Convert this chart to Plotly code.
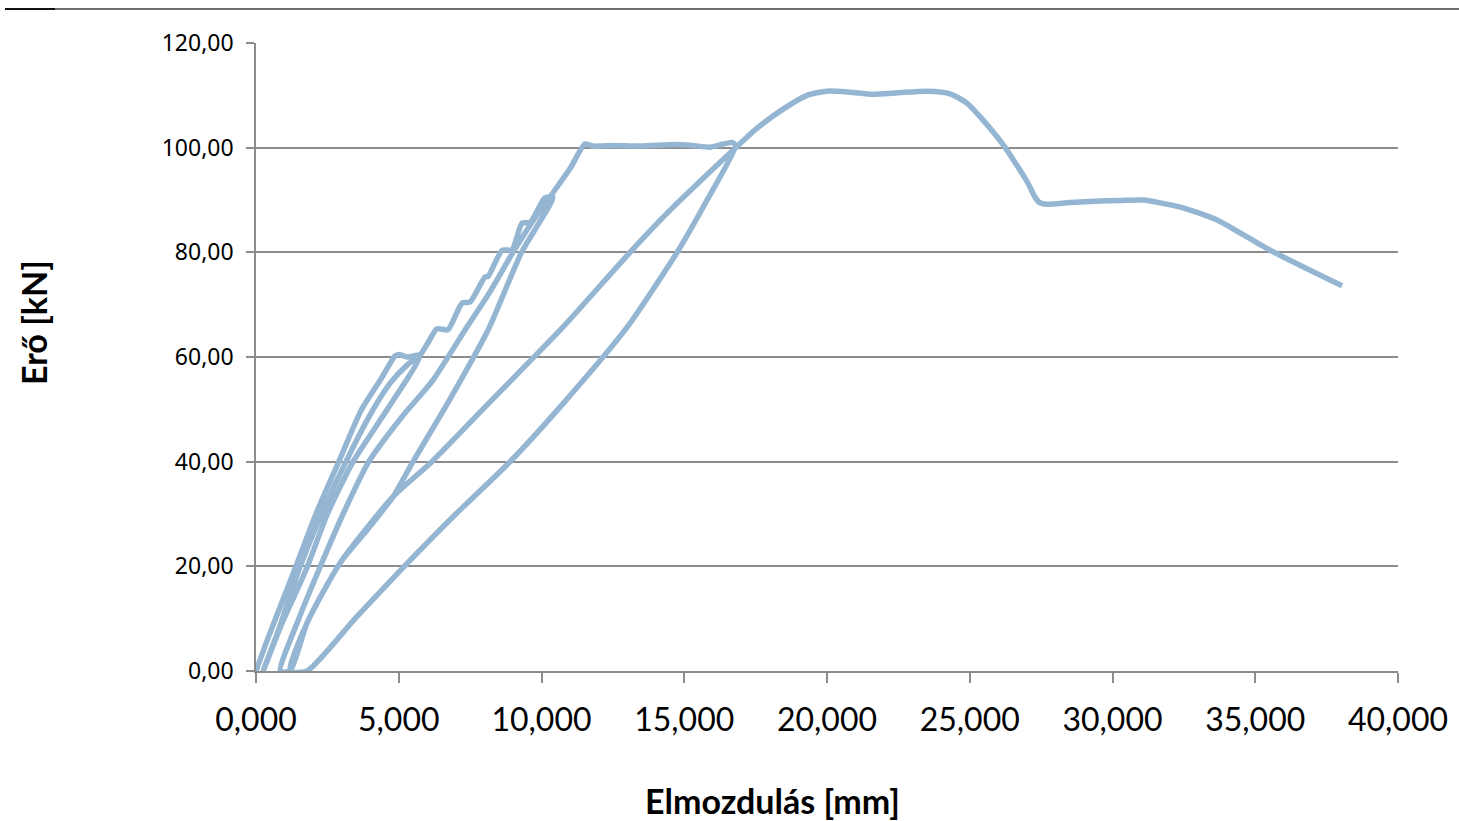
import plotly.graph_objects as go

# ---- data (displacement as labelled on the axis, force in kN) ----
load_a_x = [0, 400, 1350, 2100, 2900, 3700, 4400, 4870, 5000, 5300, 5740]
load_a_y = [0, 6, 19.3, 30, 40, 50, 56, 60.2, 60.5, 60.0, 60.3]

unload_a_x = [5740, 4600, 3400, 2500, 1750, 900, 250]
unload_a_y = [60.3, 50, 40, 30, 19.3, 9, 0]

reload_b_x = [250, 800, 1500, 2300, 3150, 4000, 4700, 5300, 5740]
reload_b_y = [0, 8, 19.3, 30, 40, 49, 55, 58.5, 60.3]

stairs_x = [5740, 6000, 6340, 6720, 7220, 7500, 8020, 8130, 8620, 8970, 9320, 9600, 10120, 10400]
stairs_y = [60.3, 62.5, 65.4, 65.2, 70.3, 70.5, 75.3, 75.4, 80.4, 80.5, 85.6, 85.7, 90.4, 90.5]

unload_90_x = [10400, 9300, 8150, 6800, 5500, 4800, 3900, 2940, 1790, 1190, 850]
unload_90_y = [90.5, 80, 65.4, 52, 40, 33.3, 27, 20.6, 9.2, 0, 0]

reload_90_x = [850, 1500, 2200, 3050, 3950, 5100, 6200, 7350, 8200, 9000, 9700, 10300, 11000, 11520]
reload_90_y = [0, 10, 19.3, 30, 40, 48.5, 55.6, 65.4, 72.5, 80, 86, 90.6, 96, 100.7]

plateau_x = [11520, 11800, 12500, 13500, 14700, 15300, 15900, 16300, 16670, 16800]
plateau_y = [100.7, 100.3, 100.4, 100.3, 100.6, 100.4, 100.1, 100.6, 101.0, 100.4]

unload_100_x = [16800, 15800, 14750, 13000, 10900, 8900, 7000, 5300, 3500, 1790, 1190]
unload_100_y = [100.4, 90, 80, 65.7, 52, 40, 30, 20.6, 10.2, 0, 0]

reload_100_x = [1190, 1790, 2940, 4800, 6160, 8300, 10700, 13100, 14400, 16800]
reload_100_y = [0, 9.2, 20.6, 33.3, 40, 52, 65.4, 80, 87.5, 100]

final_x = [16800, 17500, 18500, 19300, 20000, 20800, 21600, 22500, 23500, 24310, 24900,
           25460, 26230, 27040, 27290, 27450, 27700, 28500, 29560, 30300, 31070, 32470,
           33660, 35520, 38040]
final_y = [100, 103.5, 107.5, 110, 110.8, 110.6, 110.2, 110.5, 110.8, 110.3, 108.5,
           105.3, 100.1, 93.2, 90.5, 89.5, 89.2, 89.5, 89.8, 89.9, 90, 88.5,
           86.2, 80.4, 73.6]

segments_x = [load_a_x, unload_a_x, reload_b_x, stairs_x, unload_90_x, reload_90_x,
              plateau_x, unload_100_x, reload_100_x, final_x]
segments_y = [load_a_y, unload_a_y, reload_b_y, stairs_y, unload_90_y, reload_90_y,
              plateau_y, unload_100_y, reload_100_y, final_y]

xs, ys = [], []
for sx, sy in zip(segments_x, segments_y):
    for a, b in zip(sx, sy):
        if xs and xs[-1] == a and ys[-1] == b:
            continue
        xs.append(a)
        ys.append(b)

y_tick_vals = [0, 20, 40, 60, 80, 100, 120]
y_tick_text = ["0,00", "20,00", "40,00", "60,00", "80,00", "100,00", "120,00"]
x_tick_vals = [0, 5000, 10000, 15000, 20000, 25000, 30000, 35000, 40000]
x_tick_text = ["0,000", "5,000", "10,000", "15,000", "20,000", "25,000", "30,000", "35,000", "40,000"]

LINE_COLOR = "#94B6D3"
GRID = "#8C8C8C"

fig = go.Figure()
fig.add_trace(go.Scatter(x=xs, y=ys, mode="lines",
                         line=dict(color=LINE_COLOR, width=5.5, shape="spline", smoothing=0.6),
                         hoverinfo="skip", showlegend=False))

W, H = 1459, 821
L, R, T, B = 256, 61, 43, 150
pw, ph = W - L - R, H - T - B

def px_to_paper_x(px):
    return (px - L) / pw

def py_to_paper_y(py):
    return (H - B - py) / ph

fig.update_layout(
    width=W, height=H,
    margin=dict(l=L, r=R, t=T, b=B, autoexpand=False),
    paper_bgcolor="white", plot_bgcolor="white",
    showlegend=False,
    xaxis=dict(range=[0, 40000], tickvals=x_tick_vals, ticktext=x_tick_text,
               showgrid=False, zeroline=False, showline=True, linecolor=GRID, linewidth=1.5,
               ticks="outside", ticklen=10, tickcolor=GRID, tickwidth=1.5,
               tickfont=dict(family="Lato", size=32, color="black"),
               ticklabelstandoff=10),
    yaxis=dict(range=[0, 120], tickvals=y_tick_vals, ticktext=y_tick_text,
               showgrid=True, gridcolor=GRID, gridwidth=1.5, zeroline=False,
               showline=True, linecolor=GRID, linewidth=1.5,
               ticks="outside", ticklen=8, tickcolor=GRID, tickwidth=1.5,
               tickfont=dict(family="Noto Sans", size=23, color="black"),
               ticklabelstandoff=8),
)

fig.add_annotation(text="<b>Elmozdulás [mm]</b>", xref="paper", yref="paper",
                   x=px_to_paper_x(772), y=py_to_paper_y(800), showarrow=False,
                   xanchor="center", yanchor="middle",
                   font=dict(family="Lato", size=34, color="black"))
fig.add_annotation(text="<b>Erő [kN]</b>", xref="paper", yref="paper",
                   x=px_to_paper_x(33), y=py_to_paper_y(323), showarrow=False,
                   textangle=-90, xanchor="center", yanchor="middle",
                   font=dict(family="Lato", size=34, color="black"))

# thin border line at the very top of the image
fig.add_shape(type="line", xref="paper", yref="paper",
              x0=px_to_paper_x(5), x1=px_to_paper_x(55), y0=py_to_paper_y(9), y1=py_to_paper_y(9),
              line=dict(color="#111111", width=2))
fig.add_shape(type="line", xref="paper", yref="paper",
              x0=px_to_paper_x(55), x1=px_to_paper_x(1459), y0=py_to_paper_y(9), y1=py_to_paper_y(9),
              line=dict(color="#6E6E6E", width=2))

fig.write_html("out.html")
